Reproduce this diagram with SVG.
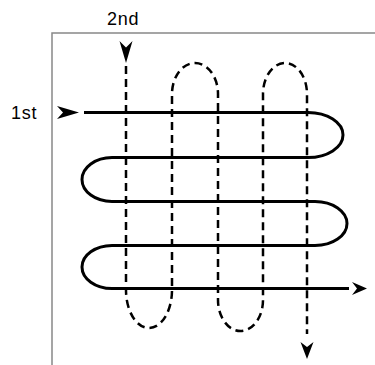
<svg xmlns="http://www.w3.org/2000/svg" width="375" height="365" viewBox="0 0 375 365">
<style>
.frame{fill:none;stroke:#888;stroke-width:1.5}
.solid{fill:none;stroke:#000;stroke-width:3;stroke-linejoin:round}
.dash{fill:none;stroke:#000;stroke-width:2.5;stroke-dasharray:8 5}
.head{fill:#000;stroke:none}
.lbl{font-family:"Liberation Sans",Arial,sans-serif;font-size:18px;letter-spacing:0.8px;fill:#000}
</style>
<rect width="375" height="365" fill="#fff"/>
<g id="frame">
<path class="frame" d="M52,365 L52,33 L375,33"/>
</g>
<g id="labels">
<text class="lbl" x="11" y="119">1st</text>
<text class="lbl" x="107" y="25">2nd</text>
</g>
<g id="connectors">
<path id="second" class="dash" d="M126,66 L126,290 A23 38 0 0 0 172,290 L172,94 A23 31 0 0 1 218,94 L218,300 A22.5 31 0 0 0 263,300 L263,94 A22 31 0 0 1 307,94 L307,334"/>
<path id="first" class="solid" d="M84,112.5 L308,112.5 A35 22.5 0 0 1 308,157.5 L112,157.5 A30 22 0 0 0 112,201.5 L315,201.5 A32 22 0 0 1 315,245.5 L112,245.5 A30 21.5 0 0 0 112,288.5 L349,288.5"/>
<path class="head" d="M79,112.5 L57,106 L63,112.5 L57,119 Z"/>
<path class="head" d="M126,63 L119.5,41 L126,47.5 L132.5,41 Z"/>
<path class="head" d="M367,288.5 L352,282 L357,288.5 L352,295 Z"/>
<path class="head" d="M307,359 L300.5,342 L307,347 L313.5,342 Z"/>
</g>
</svg>
